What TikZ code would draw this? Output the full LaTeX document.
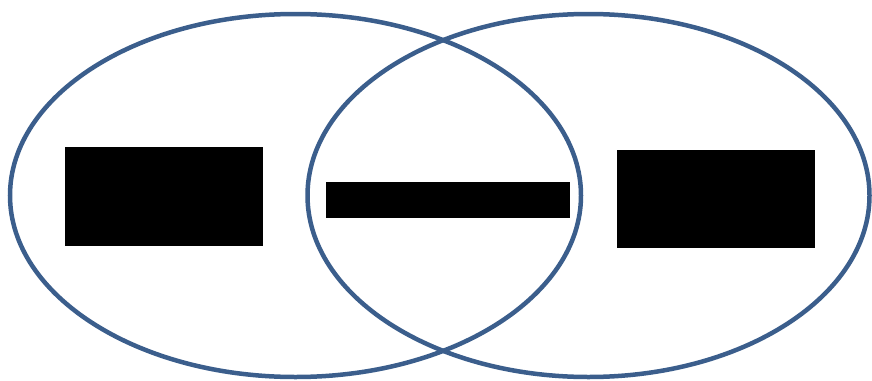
\documentclass[tikz,border=0pt]{standalone}
\begin{document}
\begin{tikzpicture}[x=1pt,y=-1pt,
  ring/.style={draw=ringblue,line width=4.5pt},
  redact/.style={fill=black,draw=none,inner sep=0pt,anchor=north west}]
\definecolor{ringblue}{HTML}{3B5E8C}
\useasboundingbox (0,0) rectangle (872,380);
\draw[ring] (295.5,195.5) ellipse [x radius=285.5, y radius=181.5];
\draw[ring] (588.5,195.5) ellipse [x radius=281, y radius=181.5];
\node[redact,minimum width=198pt,minimum height=99pt] (left) at (65,147) {};
\node[redact,minimum width=244pt,minimum height=36pt] (mid) at (326,182) {};
\node[redact,minimum width=198pt,minimum height=98pt] (right) at (617,150) {};
\end{tikzpicture}
\end{document}
